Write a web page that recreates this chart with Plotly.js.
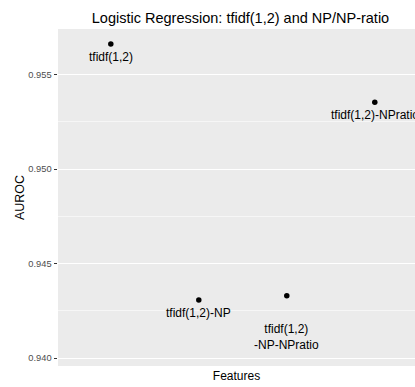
<!DOCTYPE html>
<html>
<head>
<meta charset="utf-8">
<script src="https://cdn.plot.ly/plotly-3.0.1.min.js"></script>
<style>
  html, body { margin: 0; padding: 0; overflow: hidden; background: #ffffff; }
  #chart { width: 415px; height: 387px; }
</style>
</head>
<body>
<div id="chart"></div>
<script>
// Feature sets compared, and the AUROC of the logistic regression on each
const features = ["tfidf(1,2)", "tfidf(1,2)-NP", "tfidf(1,2)-NP-NPratio", "tfidf(1,2)-NPratio"];
const auroc = [0.95662, 0.94307, 0.94330, 0.95354];
// Text written under each point
const pointLabels = ["tfidf(1,2)", "tfidf(1,2)-NP", "tfidf(1,2)<br>-NP-NPratio", "tfidf(1,2)-NPratio"];
const yTickValues = [0.940, 0.945, 0.950, 0.955];
const yTickText = ["0.940", "0.945", "0.950", "0.955"];

const FONT = "Liberation Sans, Arial, Helvetica, sans-serif";

const trace = {
  type: "scatter",
  mode: "markers",
  x: features,
  y: auroc,
  marker: { color: "#000000", size: 5.5 },
  hoverinfo: "x+y",
  cliponaxis: false
};

const annotations = features.map((f, i) => {
  const multiline = pointLabels[i].indexOf("<br>") >= 0;
  return {
    x: f,
    y: auroc[i],
    xref: "x",
    yref: "y",
    text: pointLabels[i],
    showarrow: false,
    xanchor: "center",
    yanchor: "middle",
    yshift: multiline ? -41 : -13,
    font: { family: FONT, size: 12, color: "#000000" }
  };
});

const layout = {
  width: 415,
  height: 387,
  margin: { l: 58, r: 0, t: 29, b: 21, pad: 0 },
  paper_bgcolor: "#ffffff",
  plot_bgcolor: "#EBEBEB",
  showlegend: false,
  font: { family: FONT, color: "#000000" },
  title: {
    text: "Logistic Regression: tfidf(1,2) and NP/NP-ratio",
    font: { family: FONT, size: 14.5, color: "#000000" },
    xref: "container",
    yref: "container",
    x: 0.5795,
    xanchor: "center",
    y: 1 - 17.5 / 387,
    yanchor: "middle"
  },
  xaxis: {
    type: "category",
    categoryorder: "array",
    categoryarray: features,
    range: [-0.6, 3.457],
    showgrid: false,
    zeroline: false,
    showline: false,
    showticklabels: false,
    ticks: "",
    fixedrange: true,
    automargin: false,
    title: {
      text: "Features",
      font: { family: FONT, size: 12, color: "#000000" },
      standoff: 5
    }
  },
  yaxis: {
    range: [0.93958, 0.95742],
    tickvals: yTickValues,
    ticktext: yTickText,
    ticks: "outside",
    ticklen: 3.5,
    tickwidth: 1,
    tickcolor: "#333333",
    tickfont: { family: FONT, size: 9.3, color: "#4D4D4D" },
    showgrid: true,
    gridcolor: "#ffffff",
    gridwidth: 1.1,
    zeroline: false,
    showline: false,
    fixedrange: true,
    automargin: false,
    minor: {
      tick0: 0.9425,
      dtick: 0.005,
      showgrid: true,
      gridcolor: "#ffffff",
      gridwidth: 0.55,
      ticks: ""
    },
    title: {
      text: "AUROC",
      font: { family: FONT, size: 12.5, color: "#000000" },
      standoff: 0
    }
  },
  annotations: annotations
};

Plotly.newPlot("chart", [trace], layout, { displayModeBar: false, staticPlot: true });
</script>
</body>
</html>
